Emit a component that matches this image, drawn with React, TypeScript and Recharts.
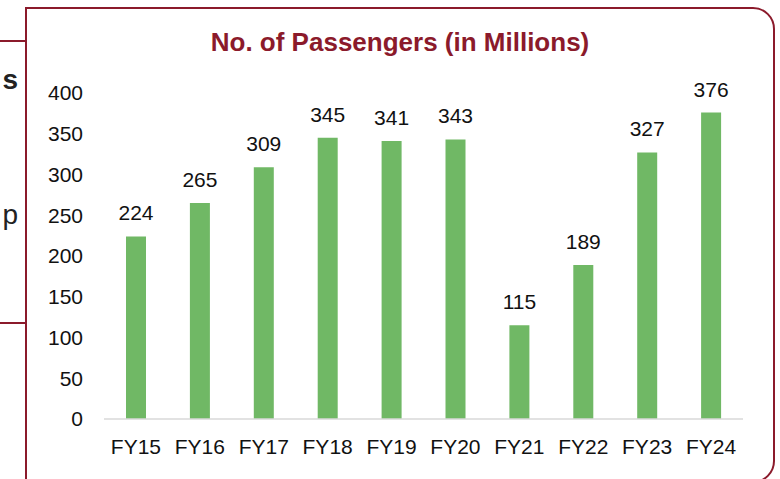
import React from 'react';
import { BarChart, Bar, XAxis, YAxis, LabelList } from 'recharts';

const YEARS = ['FY15', 'FY16', 'FY17', 'FY18', 'FY19', 'FY20', 'FY21', 'FY22', 'FY23', 'FY24'];
const PASSENGERS = [224, 265, 309, 345, 341, 343, 115, 189, 327, 376];
const Y_TICKS = [0, 50, 100, 150, 200, 250, 300, 350, 400];

const MAROON = '#8B1A2B';
const FONT = 'Arial, "Liberation Sans", sans-serif';

const rows = YEARS.map((year, i) => ({ year, value: PASSENGERS[i] }));

export default function App() {
  return (
    <div style={{ position: 'fixed', left: 0, top: 0, width: 780, height: 479, background: '#fff', overflow: 'hidden', fontFamily: FONT }}>
      {/* edge of the neighbouring box */}
      <div style={{ position: 'absolute', left: 0, top: 40, width: 26, height: 280, borderTop: `2px solid ${MAROON}`, borderBottom: `2px solid ${MAROON}` }} />
      <div style={{ position: 'absolute', right: 762, top: 64, fontSize: 28, fontWeight: 700, color: '#222', lineHeight: '32px' }}>s</div>
      <div style={{ position: 'absolute', right: 762, top: 199, fontSize: 28, color: '#222', lineHeight: '32px' }}>p</div>

      <div style={{ position: 'absolute', left: 25, top: 7, width: 750, height: 476, border: `2.5px solid ${MAROON}`, borderRadius: '0 22px 22px 0', boxSizing: 'border-box' }} />

      <div style={{ position: 'absolute', left: 25, width: 750, top: 26, textAlign: 'center', fontSize: 26, lineHeight: '32px', fontWeight: 700, color: MAROON }}>
        No. of Passengers (in Millions)
      </div>

      <div style={{ position: 'absolute', left: 0, top: 0 }}>
        <BarChart width={780} height={479} data={rows} margin={{ top: 93, right: 37, bottom: 30, left: 0 }}>
          <XAxis
            dataKey="year"
            height={30}
            tickLine={false}
            axisLine={{ stroke: '#D9D9D9', strokeWidth: 1.5 }}
            tickMargin={20}
            tickSize={0}
            tick={{ fill: '#111', fontSize: 21, fontFamily: FONT }}
            interval={0}
          />
          <YAxis
            width={104}
            domain={[0, 400]}
            ticks={Y_TICKS}
            axisLine={false}
            tickLine={false}
            tickSize={0}
            tickMargin={21}
            tick={{ fill: '#111', fontSize: 21, fontFamily: FONT }}
          />
          <Bar dataKey="value" fill="#70B865" barSize={20} isAnimationActive={false}>
            <LabelList dataKey="value" position="top" offset={16} fill="#111" fontSize={21} fontFamily={FONT} />
          </Bar>
        </BarChart>
      </div>
    </div>
  );
}
